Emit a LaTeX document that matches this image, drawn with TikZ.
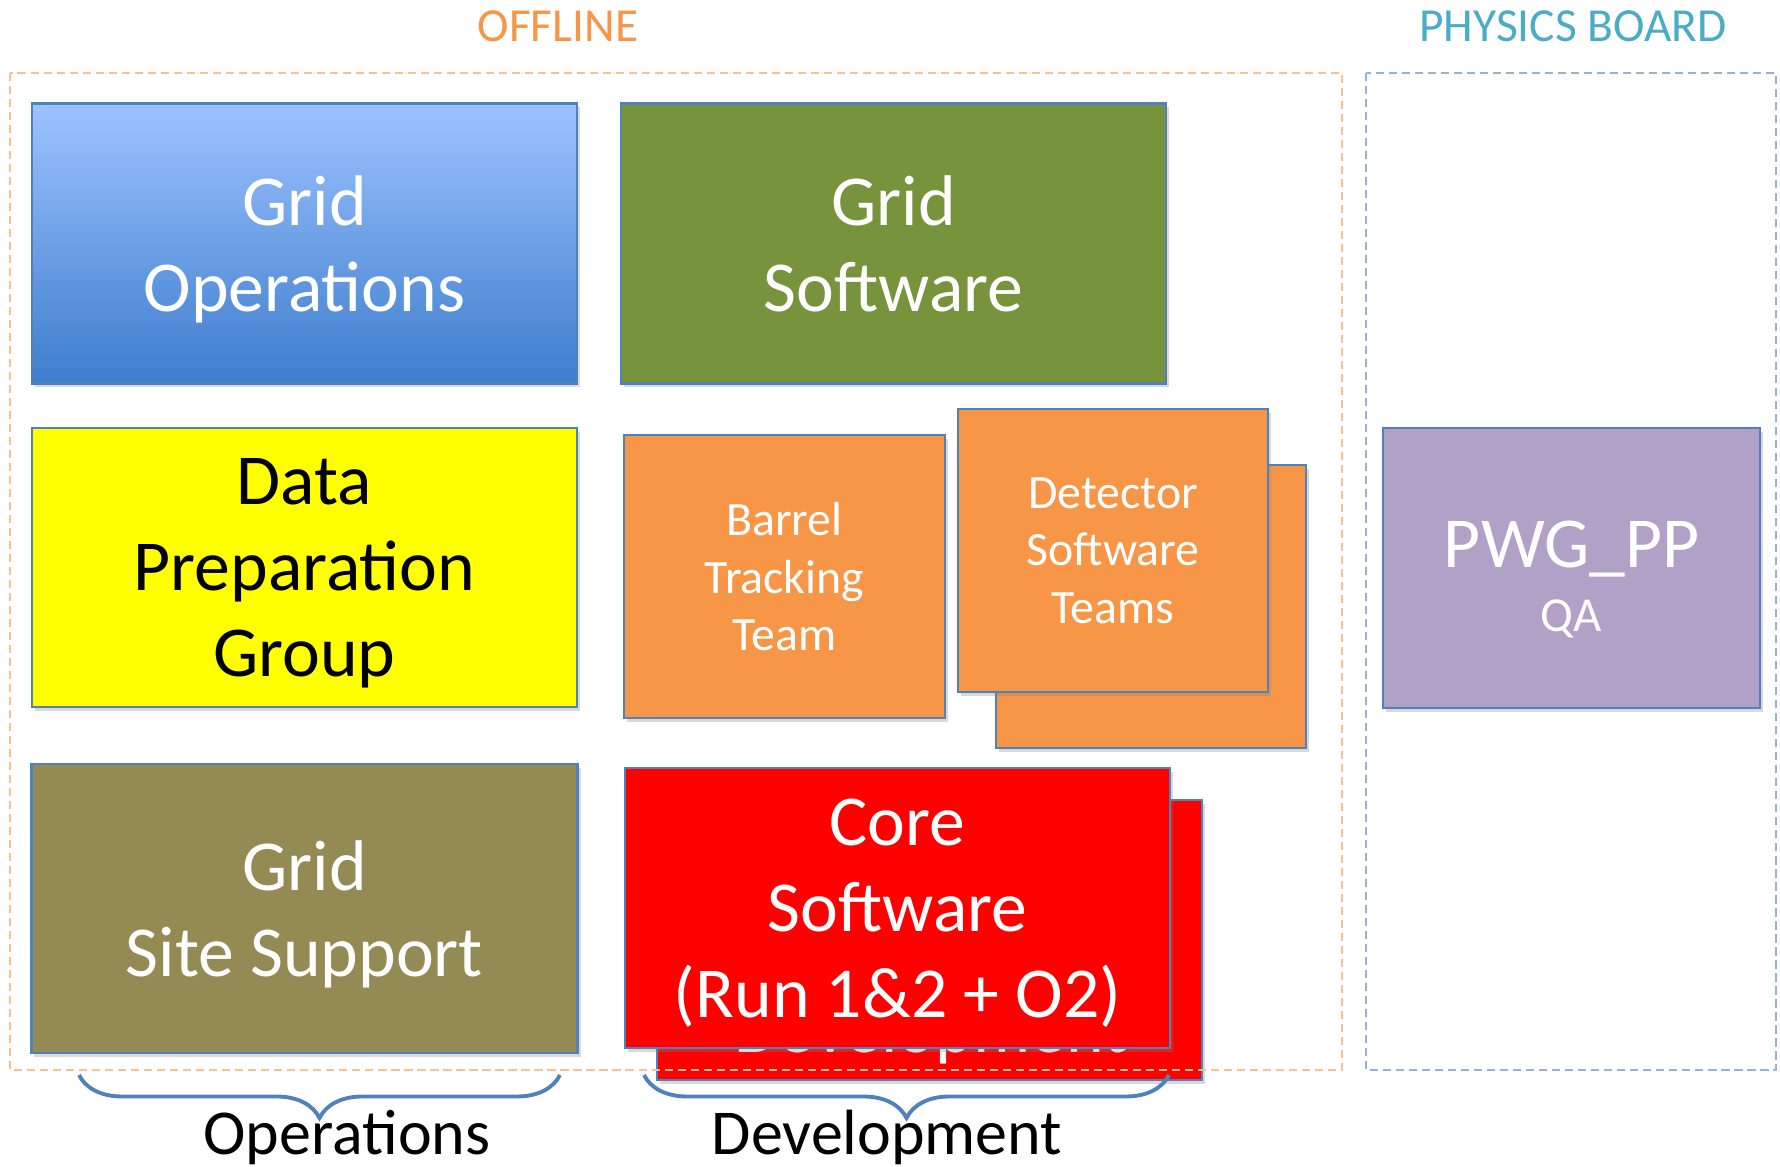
\documentclass[tikz,border=0pt]{standalone}
\usepackage{fontspec}
\setmainfont{Carlito}
\usepackage{tikz}
\usetikzlibrary{positioning}
\usetikzlibrary{shadows}
\usetikzlibrary{decorations.pathreplacing}

\definecolor{edgeblue}{HTML}{4F81BD}
\definecolor{opstop}{RGB}{157,195,255}
\definecolor{opsbottom}{RGB}{62,125,205}
\definecolor{swgreen}{HTML}{77933C}
\definecolor{prepyellow}{RGB}{255,255,0}
\definecolor{siteolive}{HTML}{948A54}
\definecolor{corered}{RGB}{255,0,0}
\definecolor{teamorange}{HTML}{F79646}
\definecolor{pwgpurple}{HTML}{B2A1C7}
\definecolor{offorange}{HTML}{F79646}
\definecolor{offframe}{HTML}{FAC090}
\definecolor{phyblue}{HTML}{4BACC6}
\definecolor{phyframe}{HTML}{95B3D7}

\tikzset{
  box/.style={draw=edgeblue, line width=0.6pt, align=center, inner sep=0pt,
    text depth=0pt,
    drop shadow={shadow xshift=0.03cm, shadow yshift=-0.04cm, opacity=0.3}},
  bigbox/.style={box, minimum width=5.45cm, minimum height=2.8cm,
    font=\fontsize{20.4}{24.5}\selectfont},
  team/.style={box, fill=teamorange, text=white, minimum width=3.1cm,
    minimum height=2.83cm, font=\fontsize{13.6}{16.4}\selectfont},
  title/.style={anchor=base, font=\fontsize{13.5}{16}\selectfont},
  grplabel/.style={anchor=base, font=\fontsize{18.2}{21}\selectfont},
  frame/.style={dash pattern=on 2.3pt off 1.4pt, line width=0.45pt},
  grpbrace/.style={decorate, decoration={brace, mirror, amplitude=0.43cm},
    draw=edgeblue, line width=1.1pt},
}

\begin{document}
\begin{tikzpicture}
        [node distance=5.89cm]
        \useasboundingbox (0,0) rectangle (17.8,-11.67);

        \node [title, text=offorange] (offtitle) at (5.58,-0.42) {OFFLINE};
        \node [title, text=phyblue] (phytitle) at (15.73,-0.42) {PHYSICS BOARD};

        % operations
        \node [bigbox, top color=opstop, bottom color=opsbottom, text=white] (gridops) at (3.045,-2.435) {Grid\\Operations};
        \node [bigbox, fill=swgreen, text=white, right of=gridops] (gridsw) {Grid\\Software};
        \node [bigbox, fill=prepyellow, below of=gridops, node distance=3.24cm, minimum height=2.79cm] (dataprep) {Data\\Preparation\\Group};
        \node [bigbox, fill=siteolive, text=white, below of=dataprep, node distance=3.41cm, minimum width=5.46cm, minimum height=2.89cm] (sitesupp) {Grid\\Site Support};

        % development
        \node [team, minimum width=3.21cm] (barrel) at (7.845,-5.765) {Barrel\\Tracking\\Team};
        \node [team] (detback) at (11.51,-6.065) {};
        \node [team, xshift=-0.38cm, yshift=0.56cm] (detector) at (detback) {Detector\\Software\\Teams};

        \node [bigbox, fill=corered] (coreback) at (9.295,-9.4) {};
        \node [anchor=base, text=white, font=\fontsize{20.4}{24.5}\selectfont] (devhidden) at (9.31,-10.53) {Development};
        \node [bigbox, fill=corered, text=white, xshift=-0.32cm, yshift=0.32cm] (core) at (coreback) {Core\\Software\\(Run 1\&2 + O2)};

        % physics board
        \node [box, fill=pwgpurple, text=white, minimum width=3.77cm, minimum height=2.8cm, font=\fontsize{20.4}{18}\selectfont] (pwg) at (15.715,-5.68) {\rule{0pt}{0.63cm}PWG\_PP\\{\fontsize{13.9}{15}\selectfont QA}};

        \draw [frame, draw=offframe] (0.10,-0.73) rectangle (13.42,-10.70);
        \draw [frame, draw=phyframe] (13.66,-0.73) rectangle (17.76,-10.70);

        % braces
        \coordinate (opsL) at (0.79,-10.75);
        \coordinate (opsR) at (5.60,-10.75);
        \coordinate (devL) at (6.44,-10.75);
        \coordinate (devR) at (11.69,-10.75);
        \draw [grpbrace] (opsL) -- (opsR);
        \draw [grpbrace] (devL) -- (devR);
        \node [grplabel] (opslabel) at (3.47,-11.55) {Operations};
        \node [grplabel] (devlabel) at (8.87,-11.55) {Development};
\end{tikzpicture}
\end{document}
